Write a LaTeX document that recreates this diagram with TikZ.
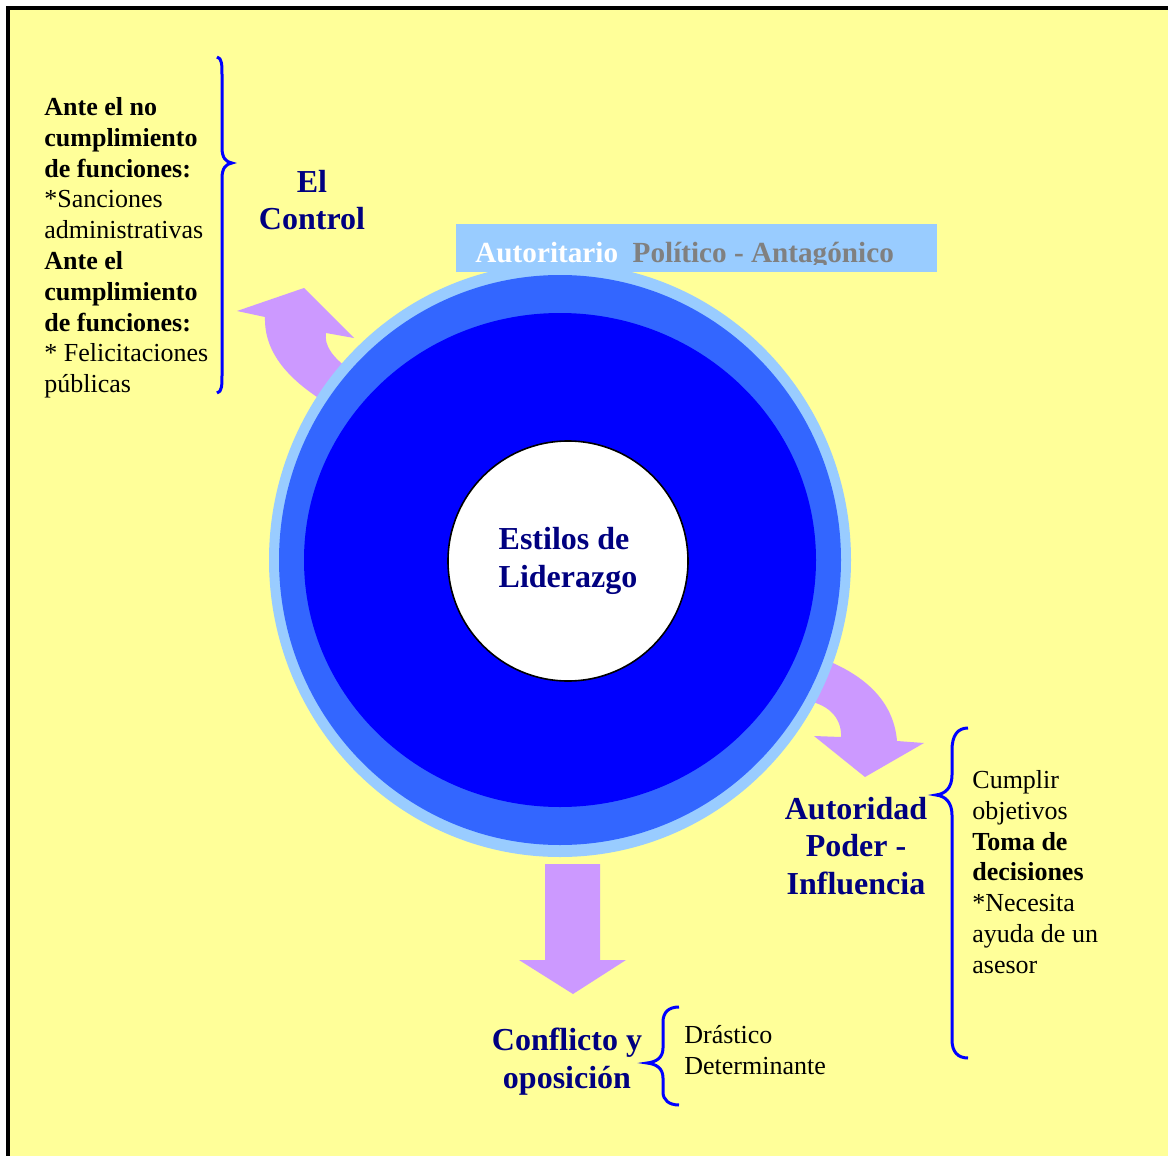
\documentclass[tikz,border=0pt]{standalone}
\usepackage{fontspec}
\setmainfont{Liberation Serif}
\definecolor{fondo}{HTML}{FFFF99}
\definecolor{anillo}{HTML}{99CCFF}
\definecolor{azulmedio}{HTML}{3366FF}
\definecolor{azul}{HTML}{0000FF}
\definecolor{violeta}{HTML}{CC99FF}
\definecolor{marino}{HTML}{000080}
\definecolor{gris}{HTML}{808080}
\begin{document}
\begin{tikzpicture}[x=0.5pt, y=-0.5pt,
  titulo/.style={text=marino, font=\fontsize{16}{18.6}\selectfont\bfseries, align=center, inner sep=0pt},
  texto/.style={font=\fontsize{13}{15.4}\selectfont, align=left, inner sep=0pt},
  llave/.style={draw=azul, line width=1.5pt},
  flecha/.style={fill=violeta}]
  \useasboundingbox (0,0) rectangle (1168,1156);

  % Fondo y marco
  \fill[white] (0,0) rectangle (1168,1156);
  \fill[fondo] (8,8) rectangle (1168,1156);
  \draw[line width=2pt] (8,1156) -- (8,8) -- (1168,8);

  % Centro del circulo
  \coordinate (C) at (560,560);

  % Flecha hacia El Control
  \fill[flecha] (304,288) -- (354,338) -- (326,333)
    .. controls (324,345) and (332,357) .. (350,370)
    -- (328,404)
    .. controls (285,378) and (264,350) .. (265,317)
    -- (237,311) -- cycle;

  % Flecha hacia Autoridad
  \fill[flecha] (865,777) -- (924,743) -- (897,741)
    .. controls (894,705) and (870,678) .. (826,660)
    -- (800,700)
    .. controls (828,702) and (842,718) .. (841,737)
    -- (814,736) -- cycle;

  % Flecha hacia Conflicto
  \fill[flecha] (545,864) -- (600,864) -- (600,960) -- (626,960)
    -- (573,994) -- (519,960) -- (545,960) -- cycle;

  % Anillos
  \fill[anillo] (C) ellipse[x radius=291, y radius=297];
  \fill[azulmedio] (C) ellipse[x radius=281, y radius=285];
  \fill[azul] (C) ellipse[x radius=256, y radius=247];
  \node[titulo, align=left, circle, draw=black, line width=0.8pt, fill=white,
    minimum size=120pt] (estilos) at (568,561) {Estilos de\\Liderazgo};

  % Banda superior
  \fill[anillo] (456,224) rectangle (937,272);
  \begin{scope}
    \clip (456,224) rectangle (937,264);
    \node[anchor=base west, inner sep=0pt, font=\fontsize{14.6}{17}\selectfont\bfseries]
      (estilo) at (475,262) {\textcolor{white}{Autoritario}\ \ \textcolor{gris}{Político - Antagónico}};
  \end{scope}

  % El Control
  \node[titulo, anchor=north] (control) at (312,170) {El\\Control};
  \node[texto, anchor=north west] (sanciones) at (44,97)
    {\textbf{Ante el no}\\\textbf{cumplimiento}\\\textbf{de funciones:}\\*Sanciones\\administrativas\\
     \textbf{Ante el}\\\textbf{cumplimiento}\\\textbf{de funciones:}\\* Felicitaciones\\públicas};
  \draw[llave] (217,57) .. controls (222,58) and (222,65) .. (222,75) -- (222,148)
    .. controls (222,158) and (226,162) .. (232,163)
    .. controls (226,164) and (222,168) .. (222,178) -- (222,375)
    .. controls (222,385) and (222,392) .. (217,393);

  % Autoridad
  \node[titulo, anchor=north] (autoridad) at (856,797) {Autoridad\\Poder -\\Influencia};
  \node[texto, anchor=north west] (objetivos) at (972,770)
    {Cumplir\\objetivos\\\textbf{Toma de}\\\textbf{decisiones}\\*Necesita\\ayuda de un\\asesor};
  \draw[llave] (968,728) .. controls (958,728) and (952,735) .. (952,750) -- (952,775)
    .. controls (952,788) and (945,794) .. (936,795)
    .. controls (945,796) and (952,802) .. (952,815) -- (952,1040)
    .. controls (952,1052) and (958,1058) .. (968,1058);

  % Conflicto
  \node[titulo, anchor=north] (conflicto) at (567,1028) {Conflicto y\\oposición};
  \node[texto, anchor=north west] (drastico) at (684,1025) {Drástico\\Determinante};
  \draw[llave] (679,1007) .. controls (669,1007) and (663,1012) .. (663,1022) -- (663,1048)
    .. controls (663,1058) and (656,1062) .. (647,1063)
    .. controls (656,1064) and (663,1068) .. (663,1078) -- (663,1092)
    .. controls (663,1100) and (669,1105) .. (679,1105);
\end{tikzpicture}
\end{document}
